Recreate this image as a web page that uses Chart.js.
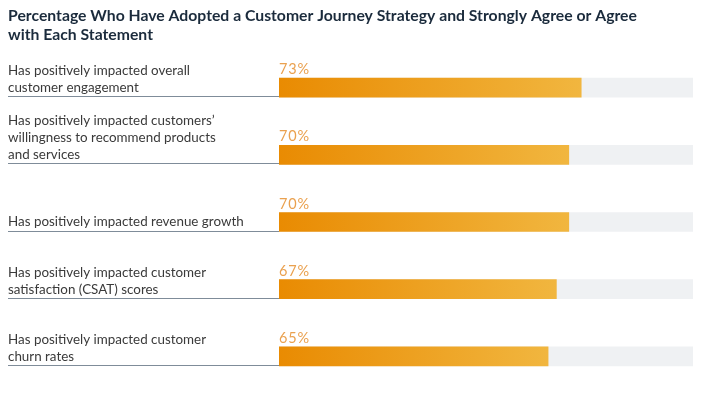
<!DOCTYPE html>
<html>
<head>
<meta charset="utf-8">
<script src="https://cdn.jsdelivr.net/npm/chart.js@4/dist/chart.umd.min.js"></script>
<style>
  html, body { margin: 0; padding: 0; background: #ffffff; }
  #wrap { width: 720px; height: 399px; }
</style>
</head>
<body>
<div id="wrap"><canvas id="c" width="720" height="399"></canvas></div>
<script>
const titleLines = [
  "Percentage Who Have Adopted a Customer Journey Strategy and Strongly Agree or Agree",
  "with Each Statement"
];
const categories = [
  ["Has positively impacted overall", "customer engagement"],
  ["Has positively impacted customers\u2019", "willingness to recommend products", "and services"],
  ["Has positively impacted revenue growth"],
  ["Has positively impacted customer", "satisfaction (CSAT) scores"],
  ["Has positively impacted customer", "churn rates"]
];
const values = [73, 70, 70, 67, 65];
const trackValues = [100, 100, 100, 100, 100];

// pad each multi-line label with blank lines so its last line sits on the bar centre
const tickLabels = categories.map(lines => lines.concat(Array(lines.length - 1).fill("")));

const LEFT_PAD = 8;

const decor = {
  id: "decor",
  beforeDatasetsDraw(chart) {
    const ctx = chart.ctx;
    const meta = chart.getDatasetMeta(1);
    ctx.save();
    ctx.strokeStyle = "#7f8c99";
    ctx.lineWidth = 1;
    meta.data.forEach(el => {
      const y = Math.round(el.y + el.height / 2) - 0.5;
      ctx.beginPath();
      ctx.moveTo(LEFT_PAD, y);
      ctx.lineTo(chart.chartArea.left, y);
      ctx.stroke();
    });
    ctx.restore();
  },
  afterDatasetsDraw(chart) {
    const ctx = chart.ctx;
    const meta = chart.getDatasetMeta(1);
    ctx.save();
    ctx.fillStyle = "#eaa14f";
    ctx.font = "14.5px Lato";
    if ("letterSpacing" in ctx) ctx.letterSpacing = "0.8px";
    ctx.textAlign = "left";
    ctx.textBaseline = "alphabetic";
    meta.data.forEach((el, i) => {
      ctx.fillText(values[i] + "%", chart.chartArea.left, el.y - el.height / 2 - 4);
    });
    ctx.restore();
  }
};

new Chart(document.getElementById("c"), {
  type: "bar",
  data: {
    labels: tickLabels,
    datasets: [
      {
        label: "Track",
        data: trackValues,
        backgroundColor: "#eff1f3",
        borderWidth: 0,
        order: 2,
        grouped: false,
        barThickness: 19
      },
      {
        label: "Agree",
        data: values,
        order: 1,
        grouped: false,
        barThickness: 19,
        borderWidth: 0,
        backgroundColor: (c) => {
          const chart = c.chart;
          const xs = chart.scales.x;
          if (!chart.chartArea || !xs || c.dataIndex === undefined) return "#ec9a1e";
          const x0 = xs.getPixelForValue(0);
          const x1 = xs.getPixelForValue(values[c.dataIndex]);
          const g = chart.ctx.createLinearGradient(x0, 0, x1, 0);
          g.addColorStop(0, "#e98b02");
          g.addColorStop(1, "#f1b63f");
          return g;
        }
      }
    ]
  },
  options: {
    indexAxis: "y",
    responsive: false,
    animation: false,
    layout: { padding: { left: LEFT_PAD, right: 27, top: 0, bottom: 9 } },
    plugins: {
      legend: { display: false },
      tooltip: { enabled: false },
      title: {
        display: true,
        text: titleLines,
        align: "start",
        color: "#1b2b3c",
        font: { family: "Lato", size: 15.75, weight: "bold", lineHeight: "19px" },
        padding: { top: 6, bottom: 10 }
      }
    },
    scales: {
      x: { display: false, min: 0, max: 100 },
      y: {
        grid: { display: false, drawTicks: false },
        border: { display: false },
        ticks: {
          autoSkip: false,
          crossAlign: "far",
          padding: 0,
          color: "#3a3a3a",
          font: { family: "Lato", size: 13.4, lineHeight: "17px" }
        },
        afterFit(scale) {
          scale.width = 279 - LEFT_PAD;
          scale.paddingTop = 0;
          scale.paddingBottom = 0;
        }
      }
    }
  },
  plugins: [decor]
});
</script>
</body>
</html>
